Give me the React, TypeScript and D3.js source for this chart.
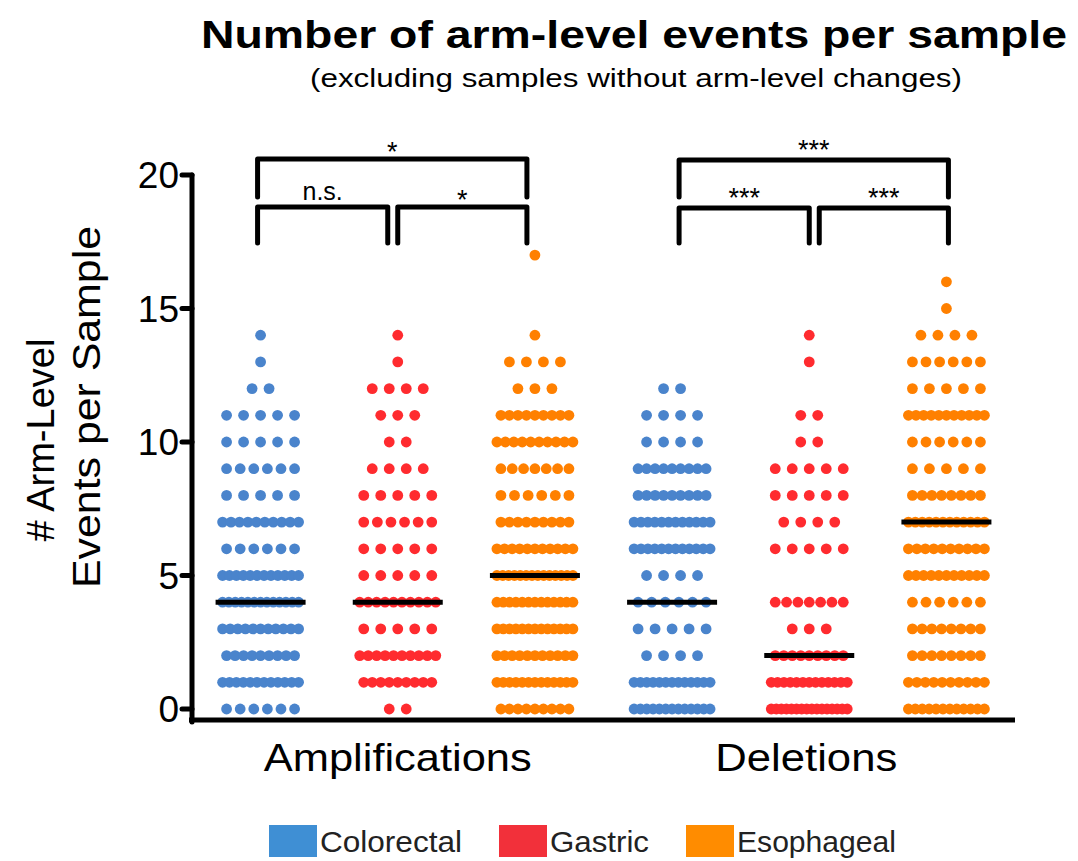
import { useEffect } from "react";
import * as d3 from "d3";

// counts of samples per event number (index = number of arm-level events)
const groups = ["ampCRC", "ampGAS", "ampESO", "delCRC", "delGAS", "delESO"];
const groupType = ["Colorectal", "Gastric", "Esophageal", "Colorectal", "Gastric", "Esophageal"];
const ampColorectal = [6, 12, 9, 11, 13, 12, 6, 10, 5, 6, 5, 5, 2, 1, 1];
const ampGastric = [2, 9, 10, 5, 10, 5, 5, 6, 5, 4, 2, 3, 4, 1, 1];
const ampEsophageal = [9, 13, 11, 13, 13, 14, 11, 9, 6, 7, 10, 9, 3, 4, 1, 0, 0, 1];
const delColorectal = [13, 13, 4, 5, 6, 4, 12, 12, 9, 9, 4, 4, 2];
const delGastric = [16, 13, 9, 3, 7, 0, 5, 4, 5, 5, 2, 2, 0, 1, 1];
const delEsophageal = [12, 10, 8, 8, 6, 11, 10, 12, 8, 5, 6, 11, 5, 6, 4, 1, 1];
const counts = [ampColorectal, ampGastric, ampEsophageal, delColorectal, delGastric, delEsophageal];
const medians = [4, 4, 5, 4, 2, 7];

const yTicks = [0, 5, 10, 15, 20];
const categories = ["Amplifications", "Deletions"];
const legendLabels = ["Colorectal", "Gastric", "Esophageal"];

// significance brackets: [from group, to group, level (0 = lower), label]
const brackets: [number, number, number, string][] = [
  [0, 1, 0, "n.s."],
  [1, 2, 0, "*"],
  [0, 2, 1, "*"],
  [3, 4, 0, "***"],
  [4, 5, 0, "***"],
  [3, 5, 1, "***"],
];

const colors: Record<string, string> = {
  Colorectal: "#4a84cc",
  Gastric: "#ff2b2f",
  Esophageal: "#ff8000",
};
const legendColors: Record<string, string> = {
  Colorectal: "#3f8fd4",
  Gastric: "#f2303a",
  Esophageal: "#ff8c00",
};

const W = 1078;
const H = 861;
const font = "'Liberation Sans', Arial, Helvetica, sans-serif";

export default function App() {
  useEffect(() => {
    document.body.style.margin = "0";
  }, []);

  const axisX = 192;
  const axisRight = 1015;
  const y = d3.scaleLinear().domain([0, 20]).range([709, 175]);
  const x = d3.scalePoint<string>().domain(groups).range([axisX, axisRight]).padding(0.5);

  // lay out dots in each row centered on the group
  const dots: { cx: number; cy: number; color: string; key: string }[] = [];
  counts.forEach((arr, gi) => {
    const cx0 = x(groups[gi]) as number;
    arr.forEach((n, v) => {
      if (!n) return;
      const half = n <= 1 ? 0 : n <= 5 ? 8.5 * (n - 1) : n <= 9 ? 34 : 38;
      const step = n <= 1 ? 0 : (2 * half) / (n - 1);
      for (let i = 0; i < n; i++) {
        dots.push({
          cx: cx0 - half + i * step,
          cy: y(v),
          color: colors[groupType[gi]],
          key: `${gi}-${v}-${i}`,
        });
      }
    });
  });

  const bracketTop = [207, 159];
  const bracketBottom = [243, 197];

  return (
    <svg width={W} height={H} style={{ position: "absolute", left: 0, top: 0, background: "#fff" }} fontFamily={font}>
      <text x={634} y={48} textAnchor="middle" fontSize={38} fontWeight="bold" textLength={866} lengthAdjust="spacingAndGlyphs">
        Number of arm-level events per sample
      </text>
      <text x={636} y={87} textAnchor="middle" fontSize={26} textLength={652} lengthAdjust="spacingAndGlyphs">
        (excluding samples without arm-level changes)
      </text>

      {/* y axis title */}
      <g transform="rotate(-90)">
        <text x={-440} y={54} textAnchor="middle" fontSize={38}>
          # Arm-Level
        </text>
        <text x={-407} y={100} textAnchor="middle" fontSize={38} textLength={362} lengthAdjust="spacingAndGlyphs">
          Events per Sample
        </text>
      </g>

      {/* dots */}
      <g>
        {dots.map((d) => (
          <circle key={d.key} cx={d.cx} cy={d.cy} r={5.4} fill={d.color} />
        ))}
      </g>

      {/* medians */}
      <g>
        {medians.map((m, i) => (
          <line
            key={i}
            x1={(x(groups[i]) as number) - 45}
            x2={(x(groups[i]) as number) + 45}
            y1={y(m)}
            y2={y(m)}
            stroke="#000"
            strokeWidth={5}
          />
        ))}
      </g>

      {/* axes */}
      <g stroke="#000" strokeWidth={5} fill="none">
        <path d={`M${axisX},${y(20)} V722`} strokeLinecap="round" />
        <path d={`M${axisX - 3},720 H${axisRight}`} />
        {yTicks.map((t) => (
          <path key={t} d={`M${axisX - 10},${y(t)} H${axisX}`} strokeLinecap="round" />
        ))}
      </g>
      <g fontSize={37} textAnchor="end">
        {yTicks.map((t) => (
          <text key={t} x={axisX - 13} y={y(t) + 13}>
            {t}
          </text>
        ))}
      </g>

      {/* category labels */}
      <g fontSize={39} textAnchor="middle">
        {categories.map((c, i) => (
          <text
            key={c}
            x={(x(groups[i * 3 + 1]) as number) - i * 3}
            y={771}
            textLength={i === 0 ? 268 : 182}
            lengthAdjust="spacingAndGlyphs"
          >
            {c}
          </text>
        ))}
      </g>

      {/* brackets */}
      <g>
        {brackets.map(([a, b, lvl, label], i) => {
          const shift = a >= 3 ? 10 : 0;
          const xa = (x(groups[a]) as number) + shift + (lvl === 0 && a % 3 === 1 ? 0 : -3);
          const xb = (x(groups[b]) as number) + shift + (lvl === 0 && b % 3 === 1 ? -10 : -8);
          const top = bracketTop[lvl] + (a >= 3 ? 1 : 0);
          const bot = bracketBottom[lvl];
          return (
            <g key={i}>
              <path
                d={`M${xa},${bot} V${top} H${xb} V${bot}`}
                fill="none"
                stroke="#000"
                strokeWidth={5}
                strokeLinejoin="round"
                strokeLinecap="round"
              />
              <text
                x={(xa + xb) / 2}
                y={label === "n.s." ? top - 7 : label === "*" ? top + 2 : top - 1}
                textAnchor="middle"
                fontSize={label === "n.s." ? 25 : 27}
              >
                {label}
              </text>
            </g>
          );
        })}
      </g>

      {/* legend */}
      <g>
        {legendLabels.map((l, i) => {
          const lx = [269, 499, 686][i];
          const tl = [142, 99, 159][i];
          return (
            <g key={l}>
              <rect x={lx} y={825} width={48} height={32} fill={legendColors[l]} />
              <text x={lx + 51} y={852} fontSize={30} fill="#222" textLength={tl} lengthAdjust="spacingAndGlyphs">
                {l}
              </text>
            </g>
          );
        })}
      </g>
    </svg>
  );
}
